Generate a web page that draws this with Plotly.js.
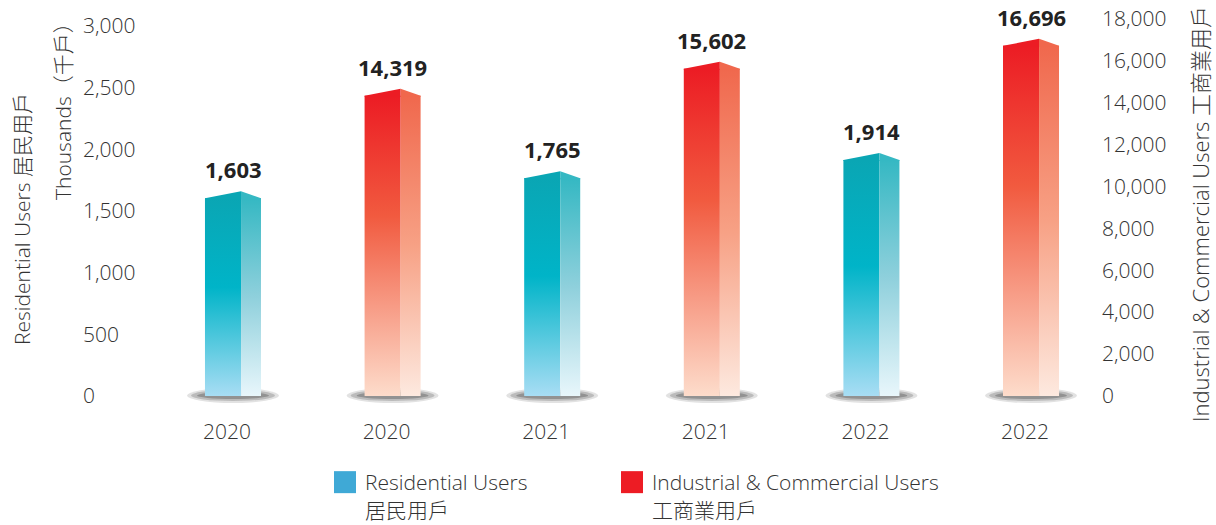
<!DOCTYPE html>
<html>
<head>
<meta charset="utf-8">
<script src="https://cdn.plot.ly/plotly-3.0.1.min.js"></script>
<style>
html,body{margin:0;padding:0;background:#fff;}
#chart{width:1216px;height:525px;}
</style>
</head>
<body>
<div id="chart"></div>
<script>
// ---- data ----
const periods = ['2020', '2021', '2022'];
const residential = [1603, 1765, 1914];        // thousands, left axis
const industrial = [14319, 15602, 16696];      // thousands, right axis
const seriesNames = ['Residential Users<br>居民用戶', 'Industrial & Commercial Users<br>工商業用戶'];
const leftTitle1 = 'Residential Users 居民用戶';
const leftTitle2 = 'Thousands（千戶）';
const rightTitle = 'Industrial & Commercial Users 工商業用戶';

// ---- derived positions (category slots) ----
const resX = periods.map((p, i) => 2 * i);
const indX = periods.map((p, i) => 2 * i + 1);
const tickVals = periods.flatMap((p, i) => [2 * i, 2 * i + 1]);
const tickText = periods.flatMap(p => [p, p]);

const FONT = '"Open Sans", "Noto Sans CJK TC", sans-serif';
const TXT = '#333333';
const FS = 21;
const frontOff = -0.138, frontW = 0.226, sideOff = 0.088, sideW = 0.125;
const barCenter = 0.0376;

const traces = [
  {type: 'bar', x: resX, y: residential, yaxis: 'y', name: seriesNames[0], legend: 'legend',
   offset: frontOff, width: frontW, marker: {color: '#3fa9d6', line: {width: 0}}, showlegend: true, hoverinfo: 'skip'},
  {type: 'bar', x: resX, y: residential, yaxis: 'y', name: 'res-side',
   offset: sideOff, width: sideW, marker: {color: '#7fcad6', line: {width: 0}}, showlegend: false, hoverinfo: 'skip'},
  {type: 'bar', x: indX, y: industrial, yaxis: 'y2', name: seriesNames[1], legend: 'legend2',
   offset: frontOff, width: frontW, marker: {color: '#ed1c24', line: {width: 0}}, showlegend: true, hoverinfo: 'skip'},
  {type: 'bar', x: indX, y: industrial, yaxis: 'y2', name: 'ind-side',
   offset: sideOff, width: sideW, marker: {color: '#f4856a', line: {width: 0}}, showlegend: false, hoverinfo: 'skip'}
];

const shapes = [];
const annotations = [];
function addDecor(xs, ys, yref, cFront, cSide) {
  xs.forEach((xv, i) => {
    const xa = xv + barCenter;
    // floor shadow
    [[-46, 46, -7, 8, 'rgba(160,160,160,0.3)'], [-42, 42, -5, 6, 'rgba(130,130,130,0.4)'], [-36, 36, -3, 4, 'rgba(105,105,105,0.5)']].forEach(s => {
      shapes.push({type: 'circle', layer: 'below', xref: 'x', yref: yref, xsizemode: 'pixel', ysizemode: 'pixel',
        xanchor: xa, yanchor: 0, x0: s[0], x1: s[1], y0: s[2], y1: s[3], fillcolor: s[4], line: {width: 0}});
    });
    // slanted top
    shapes.push({type: 'path', xref: 'x', yref: yref, xsizemode: 'pixel', ysizemode: 'pixel',
      xanchor: xa, yanchor: ys[i], path: 'M-28,-1 L-28,0 L8,7 L8,-1 Z', fillcolor: cFront, line: {width: 0}});
    shapes.push({type: 'path', xref: 'x', yref: yref, xsizemode: 'pixel', ysizemode: 'pixel',
      xanchor: xa, yanchor: ys[i], path: 'M8,-1 L8,7 L28,0 L28,-1 Z', fillcolor: cSide, line: {width: 0}});
    // value label
    annotations.push({xref: 'x', yref: yref, x: xa, y: ys[i], xanchor: 'center', yanchor: 'bottom', yshift: 12, showarrow: false,
      text: ys[i].toLocaleString('en-US'), font: {family: FONT, size: 22, color: '#222', weight: 700}});
  });
}
addDecor(resX, residential, 'y', '#0aa6b4', '#35b8c3');
addDecor(indX, industrial, 'y2', '#ec1c24', '#f0684d');

// plot area: x 80..1101, y 10..412 ; zero line at 396
const PH = 402;
function py(pix) { return (412 - pix) / PH; }
function px(pix) { return (pix - 80) / 1021; }

annotations.push(
  {xref: 'paper', yref: 'paper', x: px(22), y: py(219), xanchor: 'center', yanchor: 'middle', textangle: -90, showarrow: false, text: leftTitle1,
   font: {family: FONT, size: FS, color: TXT, weight: 300}},
  {xref: 'paper', yref: 'paper', x: px(63), y: py(106), xanchor: 'center', yanchor: 'middle', textangle: -90, showarrow: false, text: leftTitle2,
   font: {family: FONT, size: FS, color: TXT, weight: 300}},
  {xref: 'paper', yref: 'paper', x: px(1200), y: py(214), xanchor: 'center', yanchor: 'middle', textangle: -90, showarrow: false, text: rightTitle,
   font: {family: FONT, size: 22, color: TXT, weight: 300}}
);

const legendBase = {orientation: 'h', xanchor: 'left', y: py(462), yanchor: 'top', valign: 'top',
  font: {family: FONT, size: FS, color: TXT, weight: 300}, bgcolor: 'rgba(0,0,0,0)'};

const layout = {
  width: 1216, height: 525,
  margin: {l: 80, r: 115, t: 10, b: 113, autoexpand: false},
  paper_bgcolor: '#fff', plot_bgcolor: 'rgba(0,0,0,0)',
  barmode: 'overlay',
  font: {family: FONT, color: TXT, size: FS, weight: 300},
  xaxis: {range: [-0.921, 5.476], tickvals: tickVals, ticktext: tickText, showgrid: false, zeroline: false,
    showline: false, ticks: 'outside', ticklen: 1, tickcolor: 'rgba(0,0,0,0)', tickfont: {size: FS, color: TXT}},
  yaxis: {range: [-129.7, 3129.7], dtick: 500, tick0: 0, tickformat: ',d', showgrid: false, zeroline: false, showline: false,
    ticklabelposition: 'inside', ticks: '', tickfont: {size: FS, color: TXT}},
  yaxis2: {range: [-762.9, 18405], dtick: 2000, tick0: 0, tickformat: ',d', overlaying: 'y', side: 'right', showgrid: false,
    zeroline: false, showline: false, ticks: '', tickfont: {size: FS, color: TXT}},
  showlegend: true,
  legend: Object.assign({}, legendBase, {x: px(325)}),
  legend2: Object.assign({}, legendBase, {x: px(612)}),
  shapes: shapes,
  annotations: annotations
};

const grads = [
  ['gResFront', [[0, '#0aa6b4'], [0.45, '#00b4c8'], [1, '#a8ddf4']]],
  ['gResSide', [[0, '#35b8c3'], [0.5, '#8fd0dc'], [1, '#e8f6fb']]],
  ['gIndFront', [[0, '#ec1c24'], [0.4, '#f15a3f'], [1, '#fddccb']]],
  ['gIndSide', [[0, '#f0684d'], [0.5, '#f7a185'], [1, '#fde9df']]]
];

Plotly.newPlot('chart', traces, layout, {staticPlot: true}).then(gd => {
  const svg = gd.querySelector('svg.main-svg');
  const NS = 'http://www.w3.org/2000/svg';
  const defs = document.createElementNS(NS, 'defs');
  grads.forEach(([id, stops]) => {
    const lg = document.createElementNS(NS, 'linearGradient');
    lg.setAttribute('id', id);
    lg.setAttribute('x1', '0'); lg.setAttribute('y1', '0'); lg.setAttribute('x2', '0'); lg.setAttribute('y2', '1');
    stops.forEach(([o, c]) => {
      const s = document.createElementNS(NS, 'stop');
      s.setAttribute('offset', o); s.setAttribute('stop-color', c);
      lg.appendChild(s);
    });
    defs.appendChild(lg);
  });
  svg.insertBefore(defs, svg.firstChild);
  const barTraces = gd.querySelectorAll('.barlayer .trace');
  barTraces.forEach((t, i) => {
    t.querySelectorAll('path').forEach(p => { p.style.fill = 'url(#' + grads[i][0] + ')'; });
  });
  gd.querySelectorAll('.legendpoints path').forEach(p => {
    p.setAttribute('d', 'M11,11H-11V-11H11Z');
  });
});
</script>
</body>
</html>
